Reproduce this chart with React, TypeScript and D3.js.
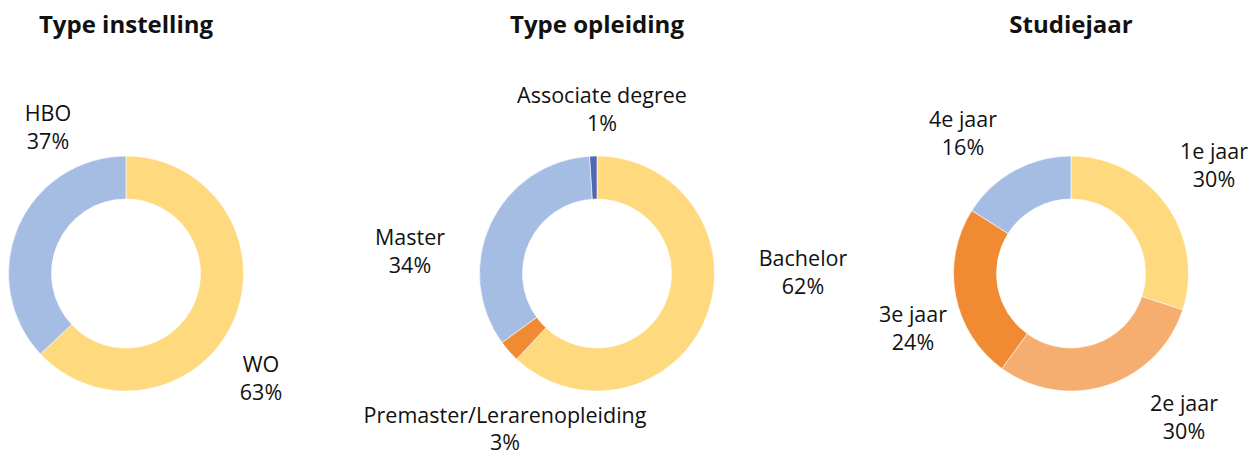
import React, { useEffect, useRef } from 'react';
import * as d3 from 'd3';

// data
const titles = ['Type instelling', 'Type opleiding', 'Studiejaar'];

const instellingLabels = ['WO', 'HBO'];
const instellingValues = [63, 37];

const opleidingLabels = ['Bachelor', 'Premaster/Lerarenopleiding', 'Master', 'Associate degree'];
const opleidingValues = [62, 3, 34, 1];

const jaarLabels = ['1e jaar', '2e jaar', '3e jaar', '4e jaar'];
const jaarValues = [30, 30, 24, 16];

const YELLOW = '#FED97E';
const BLUE = '#A5BCE3';
const ORANGE = '#F08B34';
const LIGHT_ORANGE = '#F5AD70';
const DARK_BLUE = '#5167B0';

const instellingColors = [YELLOW, BLUE];
const opleidingColors = [YELLOW, ORANGE, BLUE, DARK_BLUE];
const jaarColors = [YELLOW, LIGHT_ORANGE, ORANGE, BLUE];

// label anchor (centre x, first baseline) relative to each donut centre - layout only
const instellingLabelPos = [[135, 98.5], [-78, -152.5]];
const opleidingLabelPos = [[206, -7.5], [-92, 149], [-187, -28.5], [5, -170.5]];
const jaarLabelPos = [[143, -114.5], [113, 137.5], [-158, 48.5], [-108, -146.5]];

const W = 1260, H = 456;
const centresX = [126, 597, 1071];
const cy = 273.5;
const FONT = '"Open Sans", sans-serif';

export default function App() {
    const ref = useRef<SVGSVGElement>(null);

    useEffect(() => {
        const svg = d3.select(ref.current);
        svg.selectAll('*').remove();

        const charts = [
            { labels: instellingLabels, values: instellingValues, colors: instellingColors, pos: instellingLabelPos },
            { labels: opleidingLabels, values: opleidingValues, colors: opleidingColors, pos: opleidingLabelPos },
            { labels: jaarLabels, values: jaarValues, colors: jaarColors, pos: jaarLabelPos },
        ];

        const pie = d3.pie<number>().sort(null).value(d => d);
        const arc = d3.arc<d3.PieArcDatum<number>>().innerRadius(74.5).outerRadius(117.5);

        charts.forEach((c, i) => {
            const cx = centresX[i];

            svg.append('text')
                .attr('x', cx)
                .attr('y', 33)
                .attr('text-anchor', 'middle')
                .attr('font-family', FONT)
                .attr('font-weight', 'bold')
                .attr('font-size', 24)
                .attr('fill', '#111')
                .text(titles[i]);

            const g = svg.append('g').attr('transform', 'translate(' + cx + ',' + cy + ')');
            g.selectAll('path')
                .data(pie(c.values))
                .enter().append('path')
                .attr('d', arc)
                .attr('fill', (d, j) => c.colors[j])
                .attr('stroke', '#fff')
                .attr('stroke-width', 0.6);

            const lbl = g.selectAll('text.lbl')
                .data(c.labels)
                .enter().append('text')
                .attr('class', 'lbl')
                .attr('text-anchor', 'middle')
                .attr('font-family', FONT)
                .attr('font-size', 21.5)
                .attr('fill', '#111')
                .attr('transform', (d, j) => 'translate(' + c.pos[j][0] + ',' + c.pos[j][1] + ')');
            lbl.append('tspan').attr('x', 0).attr('y', 0).text(d => d);
            lbl.append('tspan').attr('x', 0).attr('y', 27.5).text((d, j) => c.values[j] + '%');
        });
    }, []);

    return (
        <svg ref={ref} width={W} height={H}
            style={{ position: 'absolute', left: 0, top: 0, background: '#fff' }} />
    );
}
